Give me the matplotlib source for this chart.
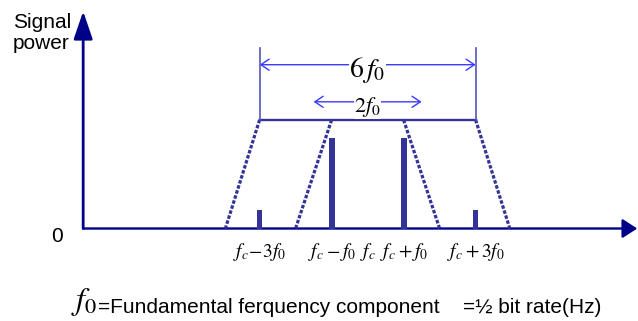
import matplotlib.pyplot as plt
from matplotlib.patches import FancyArrowPatch

plt.rcParams['mathtext.fontset'] = 'stix'
plt.rcParams['font.family'] = ['Liberation Sans', 'DejaVu Sans']

# spectral lines: offset from fc in units of f0, relative power
comp_offset = [-3, -1, 1, 3]
comp_power = [0.2, 1.0, 1.0, 0.2]
comp_width = [0.15, 0.17, 0.17, 0.15]

tick_pos = [-3, -1, 0, 1, 3]
tick_labels = [r'$f_c\!-\!3f_0$', r'$f_c-f_0$', r'$f_c$', r'$f_c+f_0$', r'$f_c+3f_0$']

# filter envelope (trapezoids), offsets in f0
plateau = 1.2
outer_top, outer_bot = 3, 3.95
inner_top, inner_bot = 1, 2

# bandwidth markers
band6 = 3      # +-3 f0
band2 = 1.5    # +-1.5 f0 (drawn a bit wider than 2f0 like the original)
band6_y, band2_y, guide_top = 1.81, 1.40, 2.0

navy = '#000088'
bar_col = '#333399'
arr_col = '#3a3aff'

fig = plt.figure(figsize=(6.38, 3.21), dpi=100)
ax = fig.add_axes([0, 0, 1, 1])
ax.set_xlim(-10.21, 7.51)
ax.set_ylim(-1.022, 2.525)
ax.axis('off')

y_ax = -7.9
# axes with arrows
ax.add_patch(FancyArrowPatch((y_ax, 0), (y_ax, 2.40), arrowstyle='-|>,head_length=17,head_width=5.8',
                             mutation_scale=1, color=navy, lw=2, shrinkA=0, shrinkB=0))
ax.add_patch(FancyArrowPatch((y_ax, 0), (7.49, 0), arrowstyle='-|>,head_length=9,head_width=5.8',
                             mutation_scale=1, color=navy, lw=1.7, shrinkA=0, shrinkB=0))

# spectral lines
ax.bar(comp_offset, comp_power, width=comp_width, color=bar_col, zorder=3)

# envelope
ax.plot([-outer_top, outer_top], [plateau, plateau], color=bar_col, lw=1.7)
dash = (0, (1.1, 0.55))
for s in (-1, 1):
    ax.plot([s * outer_top, s * outer_bot], [plateau, 0], color=bar_col, lw=2.3, ls=dash)
    ax.plot([s * inner_top, s * inner_bot], [plateau, 0], color=bar_col, lw=2.3, ls=dash)
    ax.plot([s * band6, s * band6], [plateau, guide_top], color='#5555bb', lw=1.2)

# bandwidth arrows
for half, yy in ((band6, band6_y), (band2, band2_y)):
    ax.add_patch(FancyArrowPatch((-half, yy), (half, yy), arrowstyle='<->,head_length=0.6,head_width=0.4',
                                 mutation_scale=10, color=arr_col, lw=1.0, shrinkA=0, shrinkB=0))
ax.text(0, 1.75, r'$6\,f_0$', ha='center', va='center', fontsize=20,
        bbox=dict(fc='white', ec='none', pad=0))
ax.text(0, 1.34, r'$2f_0$', ha='center', va='center', fontsize=16,
        bbox=dict(fc='white', ec='none', pad=0))

# frequency labels
for p, lab in zip(tick_pos, tick_labels):
    ax.text(p, -0.315, lab, ha='center', va='baseline', fontsize=14)

# y labels
ax.text(-9.85, 2.215, 'Signal', ha='left', va='baseline', fontsize=15)
ax.text(-9.85, 1.98, 'power', ha='left', va='baseline', fontsize=15)
ax.text(-8.63, -0.083, '0', ha='center', va='center', fontsize=15)

# footnote
ax.text(-7.86, -0.815, r'$f_0$', ha='center', va='center', fontsize=23)
ax.text(-7.49, -0.934, '=Fundamental ferquency component', ha='left', va='baseline', fontsize=15)
ax.text(2.65, -0.934, '=½ bit rate(Hz)', ha='left', va='baseline', fontsize=15)

plt.savefig('out.png', dpi=100)
